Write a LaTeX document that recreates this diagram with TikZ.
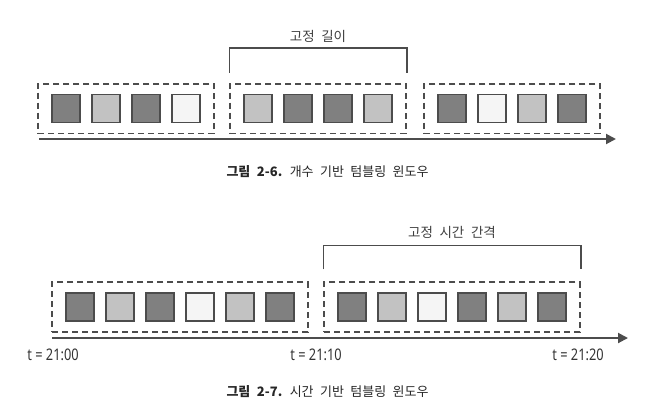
\documentclass[tikz,border=0pt]{standalone}
\usepackage{fontspec}
\setmainfont{Noto Sans CJK KR}
\newfontfamily\capfont[WordSpace=2.2]{Noto Sans CJK KR}
\newfontfamily\tfont[FakeStretch=0.8]{Noto Sans}
\usetikzlibrary{fit,arrows.meta}
\definecolor{evdark}{gray}{0.5}
\definecolor{evlight}{gray}{0.76}
\definecolor{evwhite}{gray}{0.96}
\definecolor{linegray}{gray}{0.3}

\begin{document}
\begin{tikzpicture}[x=1pt, y=-1pt,
	ev/.style={draw=linegray, line width=1.7pt, minimum size=28pt, inner sep=0pt},
	win/.style={draw=linegray, dash pattern=on 6pt off 4pt, line width=1.7pt, inner xsep=13pt, inner ysep=10pt},
	axis/.style={draw=linegray, line width=2pt, -{Triangle[length=10pt,width=10pt]}},
	brace/.style={draw=linegray, line width=1.6pt},
	lbl/.style={font=\capfont\fontsize{13.5}{13.5}\selectfont, text=black!75},
	figcap/.style={font=\capfont\fontsize{13}{13}\selectfont, text=black!85, anchor=west},
	tlbl/.style={font=\tfont\fontsize{16}{16}\selectfont, text=black!80}]
	\useasboundingbox (0,0) rectangle (664,410);
	%개수 기반
	\foreach \x/\c [count=\i] in {66/evdark, 106/evlight, 146/evdark, 186/evwhite,
		258/evlight, 298/evdark, 338/evdark, 378/evlight,
		452/evdark, 492/evwhite, 532/evlight, 572/evdark}
		\node[ev, fill=\c] (a\i) at (\x, 108.5) {};
	\node[win, fit=(a1)(a4)] (wa1) {};
	\node[win, fit=(a5)(a8)] (wa2) {};
	\node[win, fit=(a9)(a12)] (wa3) {};
	\coordinate (axa0) at (39, 139);
	\coordinate (axa1) at (616, 139);
	\draw[axis] (axa0) -- (axa1);
	\draw[brace] ([yshift=10pt]wa2.north west) |- ([yshift=35pt]wa2.north) -| ([yshift=10pt]wa2.north east);
	\node[lbl] (lena) at ([yshift=46pt]wa2.north) {고정 길이};
	\node[figcap] (capa) at (223, 172) {\textbf{그림 2-6.} 개수 기반 텀블링 윈도우};
	%시간 기반
	\foreach \x/\c [count=\i] in {80/evdark, 120/evlight, 160/evdark, 200/evwhite, 240/evlight, 280/evdark,
		352/evdark, 392/evlight, 432/evwhite, 472/evdark, 512/evlight, 552/evdark}
		\node[ev, fill=\c] (b\i) at (\x, 307) {};
	\node[win, fit=(b1)(b6)] (wb1) {};
	\node[win, fit=(b7)(b12)] (wb2) {};
	\coordinate (axb0) at (52, 338);
	\coordinate (axb1) at (628, 338);
	\draw[axis] (axb0) -- (axb1);
	\draw[brace] ([yshift=12pt]wb2.north west) |- ([yshift=36pt]wb2.north) -| ([yshift=12pt]wb2.north east);
	\node[lbl] (lenb) at ([yshift=49pt]wb2.north) {고정 시간 간격};
	\node[tlbl] (t0) at (53, 355) {t = 21:00};
	\node[tlbl] (t1) at (316, 355) {t = 21:10};
	\node[tlbl] (t2) at (578, 355) {t = 21:20};
	\node[figcap] (capb) at (223, 392) {\textbf{그림 2-7.} 시간 기반 텀블링 윈도우};
\end{tikzpicture}
\end{document}
